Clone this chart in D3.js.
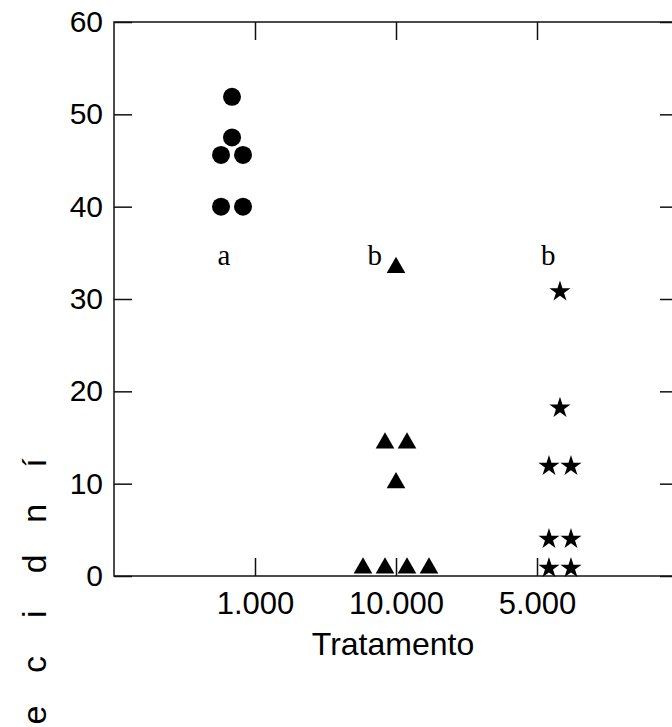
<!DOCTYPE html>
<html>
<head>
<meta charset="utf-8">
<script src="https://cdn.jsdelivr.net/npm/d3@7"></script>
<style>
  html, body { margin: 0; padding: 0; background: #fff; overflow: hidden; }
  svg { display: block; }
</style>
</head>
<body>
<svg id="chart" width="672" height="727"></svg>
<script>
// ---- data ----
const categories = ["1.000", "10.000", "5.000"];
const categoryPos = [1, 2, 3];
const yTicks = [0, 10, 20, 30, 40, 50, 60];
const circleValues = [51.9, 47.5, 45.6, 45.6, 40.0, 40.0];     // 1.000
const triangleValues = [33.4, 14.4, 14.4, 10.1, 0.85, 0.85, 0.85, 0.85]; // 10.000
const starValues = [30.8, 18.2, 11.9, 11.9, 4.0, 4.0, 0.85, 0.85]; // 5.000
const groupCenter = [0.837, 2.0, 3.163];
const letterText = ["a", "b", "b"];
const letterX = [0.78, 1.85, 3.08];
const letterY = [33.7, 33.7, 33.7];
const xTitle = "Tratamento";
const yTitle = "índice";

// ---- layout ----
const svg = d3.select("#chart");
const x = d3.scaleLinear().domain([0, 4]).range([114, 678]);
const y = d3.scaleLinear().domain([0, 60]).range([576, 22]);
const tickLen = 18;
const sans = "Arial, 'Liberation Sans', sans-serif";
const serif = "'Times New Roman', 'Liberation Serif', serif";

// frame
svg.append("rect")
  .attr("x", x(0)).attr("y", y(60))
  .attr("width", x(4) - x(0)).attr("height", y(0) - y(60))
  .attr("fill", "none").attr("stroke", "#111").attr("stroke-width", 1.5);

function styleAxis(g, fs) {
  g.select(".domain").remove();
  g.selectAll(".tick line").attr("stroke", "#111").attr("stroke-width", 1.5);
  g.selectAll(".tick text").attr("font-family", sans).attr("font-size", fs).attr("fill", "#000");
}

svg.append("g").attr("transform", `translate(${x(0)},0)`)
  .call(d3.axisLeft(y).tickValues(yTicks).tickSizeInner(-tickLen).tickSizeOuter(0).tickPadding(11).tickFormat(d3.format("d")))
  .call(g => styleAxis(g, 30));
svg.append("g").attr("transform", `translate(${x(4)},0)`)
  .call(d3.axisRight(y).tickValues(yTicks).tickSizeInner(-tickLen).tickSizeOuter(0).tickFormat(""))
  .call(g => styleAxis(g, 30));
svg.append("g").attr("transform", `translate(0,${y(60)})`)
  .call(d3.axisTop(x).tickValues(categoryPos).tickSizeInner(-tickLen).tickSizeOuter(0).tickFormat(""))
  .call(g => styleAxis(g, 30));
svg.append("g").attr("transform", `translate(0,${y(0)})`)
  .call(d3.axisBottom(x).tickValues(categoryPos).tickSizeInner(-tickLen).tickSizeOuter(0).tickPadding(16)
    .tickFormat((d, i) => categories[i]))
  .call(g => styleAxis(g, 31));

// x title
svg.append("text")
  .attr("x", (x(0) + x(4)) / 2 - 3).attr("y", 655)
  .attr("text-anchor", "middle")
  .attr("font-family", sans).attr("font-size", 32).attr("fill", "#000")
  .text(xTitle);

// y title: letters individually rotated, stacked downward
const yt = svg.append("text")
  .attr("font-family", sans).attr("font-size", 34).attr("fill", "#000");
const chars = Array.from(yTitle);
const meas = svg.append("text").attr("font-family", sans).attr("font-size", 34);
const yStart = 463, pitch = 50.4;
chars.forEach((c, i) => {
  meas.text(c);
  const adv = meas.node().getComputedTextLength();
  yt.append("tspan")
    .attr("x", 46)
    .attr("y", yStart + i * pitch + adv / 2)
    .attr("rotate", -90)
    .text(c);
});
meas.remove();

// markers
function dodge(values, center) {
  const counts = d3.rollup(values, v => v.length, d => d);
  const seen = new Map();
  return values.map(v => {
    const n = counts.get(v);
    const k = seen.get(v) || 0;
    seen.set(v, k + 1);
    return { v, px: x(center) + (k - (n - 1) / 2) * 22 };
  });
}

svg.append("g").selectAll("circle")
  .data(dodge(circleValues, groupCenter[0]))
  .join("circle")
  .attr("cx", d => d.px).attr("cy", d => y(d.v)).attr("r", 9)
  .attr("fill", "#000");

svg.append("g").selectAll("path")
  .data(dodge(triangleValues, groupCenter[1]))
  .join("path")
  .attr("transform", d => `translate(${d.px},${y(d.v)})`)
  .attr("d", d3.symbol(d3.symbolTriangle, 151))
  .attr("fill", "#000");

svg.append("g").selectAll("path")
  .data(dodge(starValues, groupCenter[2]))
  .join("path")
  .attr("transform", d => `translate(${d.px},${y(d.v)})`)
  .attr("d", d3.symbol(d3.symbolStar, 138))
  .attr("fill", "#000");

// significance letters
svg.append("g").selectAll("text")
  .data(letterText)
  .join("text")
  .attr("x", (d, i) => x(letterX[i])).attr("y", (d, i) => y(letterY[i]))
  .attr("text-anchor", "middle")
  .attr("font-family", serif).attr("font-size", 29).attr("fill", "#000")
  .text(d => d);
</script>
</body>
</html>
